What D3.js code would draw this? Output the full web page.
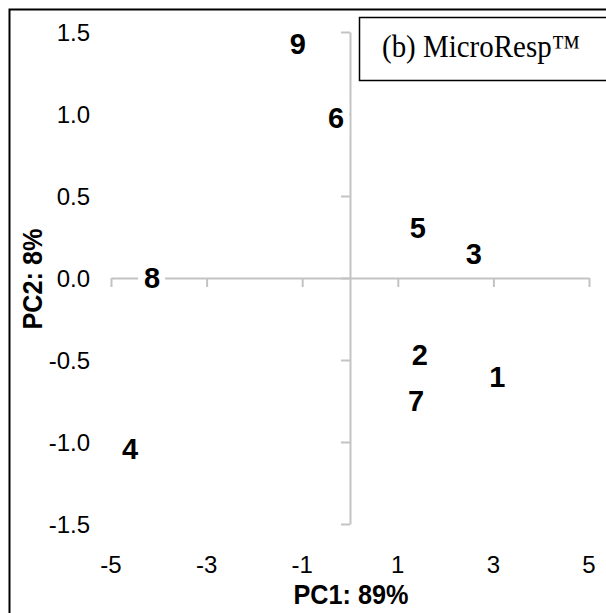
<!DOCTYPE html>
<html>
<head>
<meta charset="utf-8">
<script src="https://cdn.jsdelivr.net/npm/d3@7"></script>
<style>
  html, body { margin: 0; padding: 0; background: #fff; }
  svg { display: block; }
</style>
</head>
<body>
<svg id="chart" width="606" height="613"></svg>
<script>
// ---- data ----
const sampleLabels = ["1", "2", "3", "4", "5", "6", "7", "8", "9"];
const pc1Values = [3.08, 1.46, 2.59, -4.60, 1.42, -0.29, 1.38, -4.14, -1.09];
const pc2Values = [-0.60, -0.47, 0.15, -1.04, 0.31, 0.98, -0.75, 0.00, 1.43];
const xTickValues = [-5, -3, -1, 1, 3, 5];
const yTickValues = [-1.5, -1.0, -0.5, 0.0, 0.5, 1.0, 1.5];
const xAxisTitle = "PC1: 89%";
const yAxisTitle = "PC2: 8%";
const panelTitle = "(b) MicroResp\u2122";

// ---- drawing ----
const svg = d3.select("#chart");
const sans = "Arial, 'Liberation Sans', sans-serif";
const serif = "'Times New Roman', 'Liberation Serif', serif";
const axisColor = "#c3c3c3";
const hyphen = s => s.replace("\u2212", "-");
const fmtX = d => hyphen(d3.format("d")(d));
const fmtY = d => hyphen(d3.format(".1f")(d));

// outer frame (extends past right/bottom edges)
svg.append("rect")
  .attr("x", 9.5).attr("y", 9.5)
  .attr("width", 640).attr("height", 640)
  .attr("fill", "none").attr("stroke", "#000").attr("stroke-width", 2);

const x = d3.scaleLinear().domain([-5, 5]).range([111, 589]);
const y = d3.scaleLinear().domain([-1.5, 1.5]).range([524, 32]);

// x axis line through y = 0
const gx = svg.append("g")
  .attr("transform", `translate(0,${y(0)})`)
  .call(d3.axisBottom(x).tickValues(xTickValues).tickSize(9).tickSizeOuter(0).tickFormat(""));
// y axis line through x = 0
const gy = svg.append("g")
  .attr("transform", `translate(${x(0)},0)`)
  .call(d3.axisLeft(y).tickValues(yTickValues).tickSize(9).tickSizeOuter(0).tickFormat(""));

[gx, gy].forEach(g => {
  g.select(".domain").attr("stroke", axisColor).attr("stroke-width", 2);
  g.selectAll(".tick line").attr("stroke", axisColor).attr("stroke-width", 2);
});

// tick labels (positioned low / left, Excel-style)
svg.append("g").selectAll("text")
  .data(xTickValues).join("text")
  .attr("x", d => x(d))
  .attr("y", 564 + 8.6)
  .attr("text-anchor", "middle")
  .attr("font-family", sans).attr("font-size", 24).attr("fill", "#000")
  .text(fmtX);

svg.append("g").selectAll("text")
  .data(yTickValues).join("text")
  .attr("x", 90)
  .attr("y", d => y(d) + 8.6)
  .attr("text-anchor", "end")
  .attr("font-family", sans).attr("font-size", 24).attr("fill", "#000")
  .text(fmtY);

// axis titles
svg.append("text")
  .attr("x", 351).attr("y", 604)
  .attr("text-anchor", "middle")
  .attr("font-family", sans).attr("font-size", 28).attr("font-weight", "bold")
  .attr("textLength", 115).attr("lengthAdjust", "spacingAndGlyphs")
  .text(xAxisTitle);

svg.append("text")
  .attr("transform", "translate(42,279) rotate(-90)")
  .attr("text-anchor", "middle")
  .attr("font-family", sans).attr("font-size", 28).attr("font-weight", "bold")
  .attr("textLength", 101).attr("lengthAdjust", "spacingAndGlyphs")
  .text(yAxisTitle);

// sample labels with white backgrounds
const pts = sampleLabels.map((s, i) => ({ label: s, pc1: pc1Values[i], pc2: pc2Values[i] }));
const lab = svg.append("g").selectAll("g").data(pts).join("g")
  .attr("transform", d => `translate(${x(d.pc1)},${y(d.pc2)})`);
lab.append("rect")
  .attr("x", -14).attr("y", -15).attr("width", 27).attr("height", 30)
  .attr("fill", "#fff");
lab.append("text")
  .attr("text-anchor", "middle")
  .attr("y", 10.4)
  .attr("font-family", sans).attr("font-size", 29).attr("font-weight", "bold")
  .attr("fill", "#000")
  .text(d => d.label);

// panel title box
svg.append("rect")
  .attr("x", 359.5).attr("y", 17.5)
  .attr("width", 300).attr("height", 63)
  .attr("fill", "#fff").attr("stroke", "#000").attr("stroke-width", 1.5);
svg.append("text")
  .attr("x", 382).attr("y", 57)
  .attr("font-family", serif).attr("font-size", 32).attr("fill", "#000")
  .attr("textLength", 198).attr("lengthAdjust", "spacingAndGlyphs")
  .text(panelTitle);
</script>
</body>
</html>
